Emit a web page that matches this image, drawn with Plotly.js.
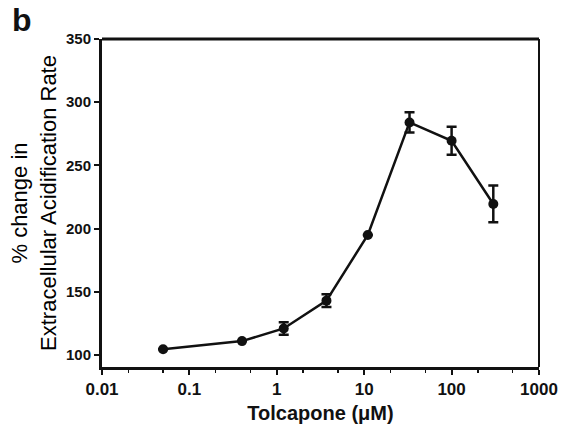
<!DOCTYPE html>
<html>
<head>
<meta charset="utf-8">
<script src="https://cdn.plot.ly/plotly-3.0.1.min.js"></script>
<style>html,body{margin:0;padding:0;background:#fff;}#chart{width:565px;height:434px;}</style>
</head>
<body>
<div id="chart"></div>
<script>
const concentrations = [0.05, 0.4, 1.2, 3.7, 11, 33, 100, 300];
const pctChange = [104.5, 111, 121, 143, 195, 284, 269.5, 219.5];
const errors = [0, 0, 5, 5, 0, 8, 11, 14.5];
const xTickVals = [0.01, 0.1, 1, 10, 100, 1000];
const xTickText = ["0.01", "0.1", "1", "10", "100", "1000"];
const yTickVals = [100, 150, 200, 250, 300, 350];

const F = "Liberation Sans, Arial, sans-serif";
const trace = {
  x: concentrations, y: pctChange, type: 'scatter', mode: 'lines+markers',
  line: {color: '#111', width: 2.5},
  marker: {color: '#111', size: 10},
  error_y: {type: 'data', array: errors, visible: true, color: '#111', thickness: 2.5, width: 5}
};
const layout = {
  width: 565, height: 434,
  margin: {l: 102, r: 26, t: 39, b: 67},
  paper_bgcolor: '#fff', plot_bgcolor: '#fff',
  showlegend: false,
  font: {family: F, color: '#111'},
  xaxis: {
    type: 'log', range: [-2, 3],
    tickvals: xTickVals, ticktext: xTickText,
    ticks: 'outside', ticklen: 5, tickwidth: 2, tickcolor: '#111',
    minor: {ticks: 'outside', ticklen: 3, tickwidth: 1.5, tickcolor: '#111', showgrid: false},
    showline: true, linewidth: 3, linecolor: '#111', mirror: false,
    showgrid: false, zeroline: false,
    tickfont: {family: F, size: 17, color: '#111', weight: 'bold'},
    title: {text: 'Tolcapone (\u03bcM)', font: {family: F, size: 20, color: '#111', weight: 'bold'}, standoff: 8}
  },
  yaxis: {
    range: [90.5, 350],
    tickvals: yTickVals,
    ticks: 'outside', ticklen: 5, tickwidth: 2, tickcolor: '#111',
    showline: true, linewidth: 3, linecolor: '#111',
    showgrid: false, zeroline: false,
    tickfont: {family: F, size: 15, color: '#111', weight: 'bold'},
    title: {text: '% change in<br>Extracellular Acidification Rate', font: {family: F, size: 22, color: '#000', weight: 'normal'}, standoff: 4}
  },
  shapes: [
    {type: 'line', xref: 'paper', yref: 'paper', x0: 0, x1: 1, y0: 1, y1: 1, line: {color: '#111', width: 3}},
    {type: 'line', xref: 'paper', yref: 'paper', x0: 1, x1: 1, y0: 0, y1: 1, line: {color: '#111', width: 2}}
  ],
  annotations: [
    {text: 'b', xref: 'paper', yref: 'paper', x: -0.21, y: 1.119, xanchor: 'left', yanchor: 'top', showarrow: false,
     font: {family: F, size: 32, color: '#111', weight: 'bold'}}
  ]
};
Plotly.newPlot('chart', [trace], layout, {displayModeBar: false, staticPlot: true});
</script>
</body>
</html>
